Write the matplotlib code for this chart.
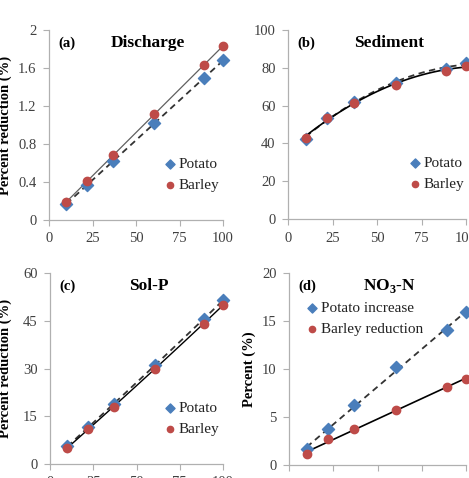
import numpy as np
import matplotlib
matplotlib.use("Agg")
import matplotlib.pyplot as plt

plt.rcParams['font.family'] = ['Liberation Serif', 'DejaVu Serif']
plt.rcParams['mathtext.fontset'] = 'custom'
plt.rcParams['mathtext.rm'] = 'Liberation Serif'
plt.rcParams['mathtext.bf'] = 'Liberation Serif:bold'

x_vals = [10, 22, 37, 60.5, 89, 100]

discharge_potato = [0.17, 0.37, 0.62, 1.02, 1.49, 1.68]
discharge_barley = [0.19, 0.41, 0.68, 1.12, 1.63, 1.83]
sediment_potato = [42.5, 53.5, 62.0, 72.0, 79.5, 82.5]
sediment_barley = [43.0, 53.5, 61.5, 71.0, 78.5, 81.0]
solp_potato = [5.5, 11.5, 19.0, 31.0, 45.5, 51.5]
solp_barley = [5.0, 11.0, 18.0, 30.0, 44.0, 50.0]
no3_potato = [1.7, 3.7, 6.2, 10.2, 14.1, 15.9]
no3_barley = [1.1, 2.7, 3.7, 5.7, 8.1, 9.0]

x_ticks = [0, 25, 50, 75, 100]

BLUE = '#4a7ebb'
RED = '#be4b48'
GRID = '#b0b0b0'

W, H = 469, 478
fig = plt.figure(figsize=(W / 100, H / 100), dpi=100)


def px_axes(left, right, top, bottom):
    return fig.add_axes([left / W, 1 - bottom / H, (right - left) / W, (bottom - top) / H])


panels = [
    dict(box=(49, 223, 30, 220), yl=(0, 2), yt=[0, 0.4, 0.8, 1.2, 1.6, 2],
         p=discharge_potato, b=discharge_barley, deg=1, bcolor='#606060', bw=0.9,
         tag='(a)', title='Discharge', ylabel='Percent reduction (%)', ylx=12,
         leg=('lower right', (1.03, 0.1)), labels=('Potato', 'Barley')),
    dict(box=(288, 466, 30, 219), yl=(0, 100), yt=[0, 20, 40, 60, 80, 100],
         p=sediment_potato, b=sediment_barley, deg=2, bcolor='black', bw=1.2,
         tag='(b)', title='Sediment', ylabel=None, ylx=None,
         leg=('lower right', (1.04, 0.1)), labels=('Potato', 'Barley')),
    dict(box=(50, 223, 273, 464), yl=(0, 60), yt=[0, 15, 30, 45, 60],
         p=solp_potato, b=solp_barley, deg=2, bcolor='black', bw=1.0,
         tag='(c)', title='Sol-P', ylabel='Percent reduction (%)', ylx=12,
         leg=('lower right', (1.03, 0.1)), labels=('Potato', 'Barley')),
    dict(box=(289, 466, 273, 465), yl=(0, 20), yt=[0, 5, 10, 15, 20],
         p=no3_potato, b=no3_barley, deg=1, bcolor='black', bw=1.2,
         tag='(d)', title=r'NO$_\mathbf{3}$-N', ylabel='Percent (%)', ylx=256,
         leg=('upper left', (0.04, 0.9)), labels=('Potato increase', 'Barley reduction')),
]

xs = np.array(x_vals)
xfit = np.linspace(min(x_vals), max(x_vals), 100)

for i, P in enumerate(panels):
    ax = px_axes(*P['box'])
    ax.set_xlim(0, 100)
    ax.set_ylim(*P['yl'])
    ax.set_xticks(x_ticks)
    ax.set_yticks(P['yt'])
    ax.set_yticklabels([f"{v:g}" for v in P['yt']])
    for s in ['top', 'right']:
        ax.spines[s].set_visible(False)
    for s in ['left', 'bottom']:
        ax.spines[s].set_color(GRID)
        ax.spines[s].set_linewidth(0.9)
    ax.tick_params(axis='both', direction='out', length=4, width=0.8, color=GRID,
                   labelsize=10.5, labelcolor='#404040', pad=5)

    cp = np.polyfit(xs, P['p'], P['deg'])
    cb = np.polyfit(xs, P['b'], P['deg'])
    ax.plot(xfit, np.polyval(cp, xfit), color='#333333', ls=(0, (3.5, 2.5)), lw=1.3, zorder=2)
    ax.plot(xfit, np.polyval(cb, xfit), color=P['bcolor'], ls='-', lw=P['bw'], zorder=2)
    hp = ax.scatter(xs, P['p'], marker='D', s=38, color=BLUE, zorder=3, clip_on=False,
                    label=P['labels'][0])
    hb = ax.scatter(xs, P['b'], marker='o', s=36, color=RED, zorder=3, clip_on=False,
                    label=P['labels'][1])

    ax.text(0.055, 0.93, P['tag'], transform=ax.transAxes, fontsize=10.5, fontweight='bold',
            va='center', ha='left')
    ax.text(0.57, 0.93, P['title'], transform=ax.transAxes, fontsize=12.5, fontweight='bold',
            va='center', ha='center')
    if P['ylabel']:
        ax.set_ylabel(P['ylabel'], fontsize=10.5, fontweight='bold')
        left, right = P['box'][0], P['box'][1]
        ax.yaxis.set_label_coords((P['ylx'] - left) / (right - left), 0.5)

    loc, anchor = P['leg']
    leg = ax.legend(handles=[hp, hb], loc=loc, bbox_to_anchor=anchor, frameon=False,
                    fontsize=11, handletextpad=0.1, handlelength=0.9, labelspacing=0.45,
                    borderaxespad=0.2, markerscale=0.75)
    for t in leg.get_texts():
        t.set_color('#222222')

fig.savefig('out.png', dpi=100)
